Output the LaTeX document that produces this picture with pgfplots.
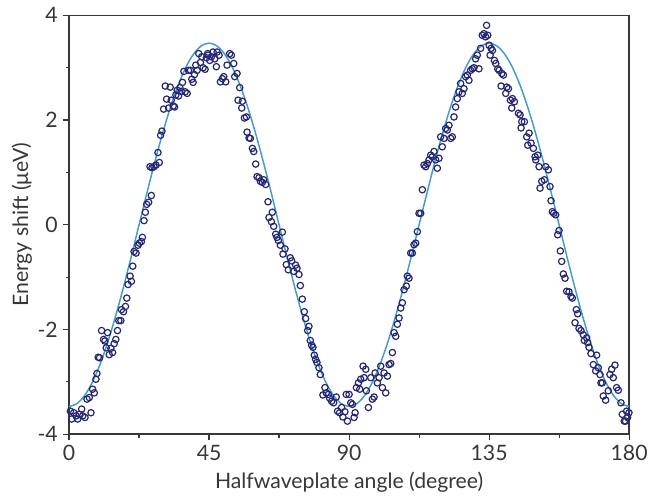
\documentclass[border=0pt]{standalone}
\usepackage{pgfplots}
\pgfplotsset{compat=1.18}
\usepackage{fontspec}
\setmainfont{Lato}
\definecolor{navy}{RGB}{36,38,122}
\definecolor{fitblue}{RGB}{62,155,214}
\definecolor{axgray}{RGB}{55,55,55}
\begin{document}
\begin{tikzpicture}
\begin{axis}[
  scale only axis,
  width=422.4pt, height=315.9pt,
  xmin=0, xmax=180, ymin=-4, ymax=4,
  xtick={0,45,90,135,180},
  minor xtick={22.5,67.5,112.5,157.5},
  ytick={-4,-2,0,2,4},
  minor ytick={-3,-1,1,3},
  xtick pos=bottom, ytick pos=left,
  tick align=outside,
  major tick length=4.5pt, minor tick length=2.6pt,
  every tick/.style={axgray, line width=0.9pt},
  axis line style={axgray, line width=1.1pt},
  tick label style={font=\fontsize{16}{19}\selectfont, text=axgray},
  /pgf/number format/assume math mode=true,
  xlabel={Halfwaveplate angle (degree)},
  ylabel={Energy shift (μeV)},
  every axis y label/.style={at={(axis description cs:0,0.5)}, rotate=90, anchor=center, yshift=35.6pt, font=\fontsize{16}{19}\selectfont, text=axgray},
  every axis x label/.style={at={(axis description cs:0.5,0)}, anchor=center, yshift=-36.5pt, font=\fontsize{16}{19}\selectfont, text=axgray},
  xticklabel style={yshift=0pt},
  yticklabel style={xshift=-0.5pt},
  clip=false,
]
\addplot[fitblue, line width=1.1pt, smooth] coordinates {
(0,-3.47)(2.5,-3.417)(5,-3.261)(7.5,-3.005)(10,-2.658)(12.5,-2.230)(15,-1.735)(17.5,-1.187)(20,-0.603)(22.5,0)
(25,0.603)(27.5,1.187)(30,1.735)(32.5,2.230)(35,2.658)(37.5,3.005)(40,3.261)(42.5,3.417)(45,3.47)
(47.5,3.417)(50,3.261)(52.5,3.005)(55,2.658)(57.5,2.230)(60,1.735)(62.5,1.187)(65,0.603)(67.5,0)
(70,-0.603)(72.5,-1.187)(75,-1.735)(77.5,-2.230)(80,-2.658)(82.5,-3.005)(85,-3.261)(87.5,-3.417)(90,-3.47)
(92.5,-3.417)(95,-3.261)(97.5,-3.005)(100,-2.658)(102.5,-2.230)(105,-1.735)(107.5,-1.187)(110,-0.603)(112.5,0)
(115,0.603)(117.5,1.187)(120,1.735)(122.5,2.230)(125,2.658)(127.5,3.005)(130,3.261)(132.5,3.417)(135,3.47)
(137.5,3.417)(140,3.261)(142.5,3.005)(145,2.658)(147.5,2.230)(150,1.735)(152.5,1.187)(155,0.603)(157.5,0)
(160,-0.603)(162.5,-1.187)(165,-1.735)(167.5,-2.230)(170,-2.658)(172.5,-3.005)(175,-3.261)(177.5,-3.417)(180,-3.47)
};
\addplot[only marks, mark=o, mark size=2.4pt, mark options={navy, line width=0.9pt}] table[row sep=\\] {
x y\\
0.43 -3.56\\ 0.85 -3.71\\ 1.49 -3.59\\ 2.24 -3.65\\ 2.77 -3.71\\ 3.30 -3.62\\ 4.05 -3.52\\ 4.37 -3.65\\
5.12 -3.68\\ 5.76 -3.33\\ 6.50 -3.30\\ 7.04 -3.59\\ 7.57 -3.14\\ 8.10 -3.21\\ 8.63 -2.95\\ 8.95 -2.84\\
9.38 -2.53\\ 9.81 -2.54\\ 10.45 -2.02\\ 11.09 -2.19\\ 11.51 -2.22\\ 11.94 -2.35\\ 12.37 -2.06\\ 12.90 -2.48\\
13.43 -2.36\\ 13.97 -2.44\\ 14.50 -2.27\\ 15.03 -2.19\\ 15.56 -2.02\\ 15.99 -1.83\\ 16.63 -1.83\\ 16.84 -1.62\\
17.48 -1.66\\ 18.12 -1.56\\ 18.55 -1.40\\ 18.97 -1.14\\ 19.61 -0.98\\ 20.04 -1.08\\ 20.47 -0.79\\ 20.89 -0.51\\
21.53 -0.54\\ 22.17 -0.39\\ 22.60 -0.35\\ 23.24 -0.32\\ 23.56 -0.24\\ 24.09 0.08\\ 24.52 0.24\\ 24.94 0.39\\
25.58 0.43\\ 26.44 0.56\\ 26.01 1.11\\ 26.65 1.09\\ 27.29 1.11\\ 27.93 1.14\\ 28.57 1.38\\ 28.99 1.19\\
29.42 1.71\\ 29.85 1.79\\ 30.38 2.21\\ 30.91 2.65\\ 31.34 2.40\\ 31.98 2.23\\ 32.51 2.63\\ 32.84 2.38\\
33.48 2.27\\ 33.90 2.25\\ 34.33 2.48\\ 34.75 2.57\\ 35.18 2.46\\ 35.61 2.62\\ 36.03 2.55\\ 36.46 2.72\\
36.89 2.93\\ 37.31 2.54\\ 37.95 2.51\\ 38.38 2.95\\ 39.02 2.95\\ 39.45 2.78\\ 39.87 2.72\\ 40.30 2.87\\
40.72 3.05\\ 41.15 2.95\\ 41.68 3.27\\ 42.22 3.10\\ 42.64 3.21\\ 43.07 3.00\\ 43.71 2.97\\ 44.13 3.19\\
44.56 3.27\\ 44.68 3.24\\ 45.21 3.14\\ 45.75 3.21\\ 46.28 3.30\\ 46.82 3.17\\ 47.35 3.02\\ 47.57 3.30\\
48.21 3.24\\ 48.64 2.73\\ 49.28 2.79\\ 49.71 2.83\\ 50.35 2.73\\ 50.78 3.05\\ 51.63 3.27\\ 52.17 3.24\\
52.92 3.08\\ 53.24 2.83\\ 53.99 2.89\\ 54.84 2.62\\ 54.31 2.38\\ 55.70 2.36\\ 55.49 2.23\\ 56.34 2.04\\
56.98 2.06\\ 57.20 1.77\\ 57.84 1.66\\ 58.27 1.65\\ 58.91 1.46\\ 59.34 1.40\\ 59.98 1.16\\ 60.41 0.92\\
61.05 0.90\\ 61.48 0.83\\ 62.12 0.81\\ 62.55 0.86\\ 63.19 0.77\\ 63.94 0.44\\ 64.26 0.14\\ 65.01 0.06\\
65.33 0.24\\ 65.76 -0.03\\ 66.40 -0.18\\ 66.83 -0.24\\ 67.26 -0.30\\ 67.90 -0.39\\ 68.54 -0.14\\ 68.75 -0.56\\
69.40 -0.46\\ 69.82 -0.76\\ 70.47 -0.86\\ 71.11 -0.63\\ 71.54 -0.69\\ 72.18 -0.89\\ 72.82 -0.77\\ 73.25 -0.83\\
73.89 -0.95\\ 74.32 -1.16\\ 74.96 -1.42\\ 75.60 -1.66\\ 76.03 -1.79\\ 76.67 -2.02\\ 77.10 -1.94\\ 77.53 -2.21\\
77.96 -2.30\\ 78.38 -2.34\\ 78.81 -2.49\\ 79.24 -2.57\\ 79.67 -2.63\\ 80.31 -2.73\\ 80.74 -2.86\\ 81.59 -3.25\\
82.24 -3.11\\ 82.66 -3.21\\ 83.31 -3.24\\ 83.73 -3.31\\ 84.38 -3.37\\ 85.02 -3.40\\ 85.87 -3.29\\ 86.30 -3.56\\
86.94 -3.59\\ 87.59 -3.49\\ 88.01 -3.67\\ 88.65 -3.57\\ 89.08 -3.24\\ 89.47 -3.75\\ 90.00 -3.24\\ 90.54 -3.40\\
91.07 -3.43\\ 91.61 -3.68\\ 91.93 -3.59\\ 92.35 -3.11\\ 93.00 -3.02\\ 93.42 -3.14\\ 93.75 -2.95\\ 94.49 -2.70\\
94.82 -2.92\\ 95.35 -2.76\\ 95.56 -3.17\\ 96.21 -3.49\\ 96.96 -2.92\\ 97.49 -3.33\\ 98.03 -3.29\\ 98.35 -2.83\\
99.10 -3.02\\ 99.63 -2.92\\ 100.17 -2.70\\ 100.70 -3.11\\ 101.24 -2.83\\ 101.77 -3.21\\ 102.31 -2.89\\ 102.84 -2.67\\
103.38 -2.65\\ 103.91 -2.44\\ 104.45 -2.06\\ 104.98 -2.13\\ 105.52 -1.90\\ 106.05 -1.78\\ 106.59 -1.59\\ 107.12 -1.49\\
107.66 -1.24\\ 108.40 -1.17\\ 108.73 -0.98\\ 109.26 -1.02\\ 109.80 -0.54\\ 110.33 -0.54\\ 110.87 -0.38\\ 111.40 -0.35\\
111.94 -0.13\\ 112.47 0.22\\ 113.01 0.22\\ 113.54 0.67\\ 114.08 1.14\\ 114.61 1.11\\ 115.15 1.17\\ 115.68 1.24\\
116.22 1.33\\ 116.75 1.30\\ 117.29 1.40\\ 117.82 1.24\\ 118.36 1.08\\ 118.89 1.27\\ 119.43 1.68\\ 119.96 1.49\\
120.50 1.65\\ 121.03 1.84\\ 121.57 1.81\\ 122.10 1.90\\ 122.64 1.65\\ 123.17 1.68\\ 123.71 2.06\\ 124.24 2.25\\
124.78 2.41\\ 125.31 2.54\\ 125.85 2.70\\ 126.38 2.51\\ 126.92 2.60\\ 127.45 2.83\\ 127.99 2.86\\ 128.52 2.76\\
129.06 2.95\\ 129.59 2.98\\ 130.13 3.00\\ 130.66 3.17\\ 131.20 3.24\\ 131.73 2.98\\ 132.27 3.37\\ 132.80 3.62\\
133.34 3.65\\ 133.87 3.59\\ 134.19 3.81\\ 134.57 3.62\\ 135.00 3.43\\ 135.64 3.37\\ 136.07 3.33\\ 135.32 3.24\\
136.71 3.14\\ 137.14 3.08\\ 137.78 2.98\\ 138.21 2.95\\ 139.07 2.89\\ 139.60 2.86\\ 138.85 2.65\\ 140.67 2.63\\
141.21 2.60\\ 140.35 2.51\\ 141.85 2.38\\ 142.49 2.41\\ 143.13 2.35\\ 142.28 2.23\\ 144.42 2.13\\ 144.95 2.10\\
145.49 1.97\\ 146.34 1.97\\ 145.27 1.85\\ 147.09 1.68\\ 147.84 1.75\\ 147.41 1.52\\ 148.48 1.56\\ 149.23 1.46\\
149.77 1.30\\ 150.62 1.33\\ 149.98 1.24\\ 151.05 1.11\\ 151.91 0.83\\ 152.76 0.86\\ 151.37 0.70\\ 153.19 1.11\\
154.05 1.05\\ 154.58 0.73\\ 154.90 0.46\\ 155.33 0.25\\ 155.76 0.22\\ 156.40 0.19\\ 157.04 -0.19\\ 157.47 -0.11\\
157.90 -0.50\\ 158.33 -0.70\\ 158.86 -0.94\\ 159.40 -1.02\\ 159.93 -1.27\\ 160.68 -1.28\\ 161.32 -1.37\\ 161.75 -1.40\\
163.03 -1.62\\ 163.46 -1.70\\ 162.61 -1.87\\ 163.89 -1.98\\ 164.53 -2.02\\ 165.28 -2.10\\ 165.60 -2.21\\ 166.35 -2.16\\
166.67 -2.25\\ 167.10 -2.34\\ 167.74 -2.46\\ 169.56 -2.49\\ 168.49 -2.67\\ 169.24 -2.79\\ 170.10 -2.73\\ 170.63 -2.86\\
170.95 -3.02\\ 171.38 -3.02\\ 171.70 -3.27\\ 172.45 -3.35\\ 173.31 -3.17\\ 173.84 -2.86\\ 174.38 -2.76\\ 174.91 -2.92\\
175.45 -2.68\\ 175.98 -3.11\\ 176.52 -3.16\\ 177.37 -3.40\\ 177.80 -3.62\\ 178.44 -3.75\\ 178.87 -3.75\\ 179.19 -3.56\\
179.51 -3.68\\ 179.94 -3.59\\
};
\end{axis}
\path (current axis.south west) ++(-52.1pt,-46.7pt) rectangle ([xshift=14.5pt,yshift=11.6pt]current axis.north east);
\end{tikzpicture}
\end{document}
